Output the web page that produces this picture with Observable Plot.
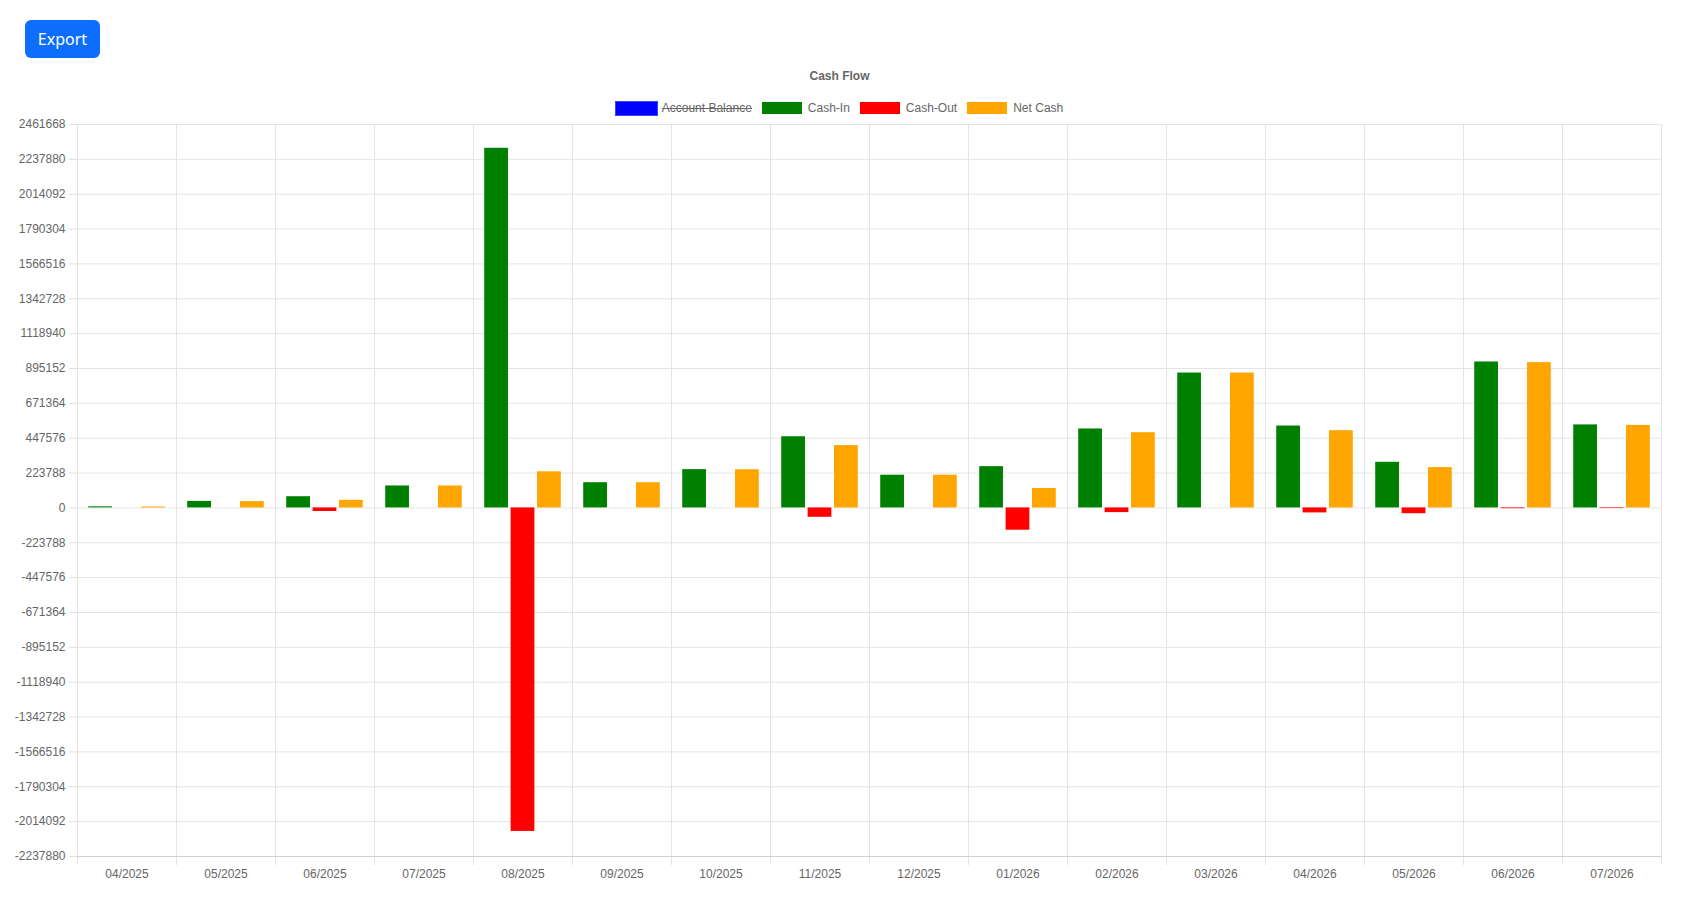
<!DOCTYPE html>
<html>
<head>
<meta charset="utf-8">
<script src="https://cdn.jsdelivr.net/npm/d3@7"></script>
<script src="https://cdn.jsdelivr.net/npm/@observablehq/plot@0.6"></script>
<style>
  html, body { margin: 0; padding: 0; background: #fff; overflow: hidden; }
  body { width: 1681px; height: 898px; position: relative; font-family: "Liberation Sans", Arial, sans-serif; }
  #export {
    position: absolute; left: 25px; top: 20px; width: 75px; height: 38px;
    background: #0d6efd; color: #fff; border: none; border-radius: 6px;
    font-family: "Noto Sans", "Open Sans", sans-serif; font-size: 16px; line-height: 38px;
    text-align: center; padding: 0; box-sizing: border-box; z-index: 2;
  }
  #title {
    position: absolute; left: 0; width: 1679px; top: 69px; text-align: center;
    font: bold 12px "Liberation Sans", Arial, sans-serif; color: #666; line-height: 14px; z-index: 2;
  }
  #legend {
    position: absolute; left: 0; width: 1678px; top: 100px; height: 16px;
    display: flex; justify-content: center; align-items: center;
    font: 12px "Liberation Sans", Arial, sans-serif; color: #666; z-index: 2;
  }
  .item { display: flex; align-items: center; margin: 0 5px; }
  .box { width: 40px; height: 12px; margin-right: 6px; box-sizing: border-box; }
  .hidden { text-decoration: line-through; }
  #chart { position: absolute; left: 0; top: 110px; z-index: 1; }
</style>
</head>
<body>
<button id="export">Export</button>
<div id="title"></div>
<div id="legend"></div>
<div id="chart"></div>
<script>
const chartTitle = "Cash Flow";
const months = ["04/2025","05/2025","06/2025","07/2025","08/2025","09/2025","10/2025","11/2025",
                "12/2025","01/2026","02/2026","03/2026","04/2026","05/2026","06/2026","07/2026"];
const legendNames = ["Account Balance", "Cash-In", "Cash-Out", "Net Cash"];
const legendColors = ["blue", "green", "red", "orange"];
const legendHidden = [true, false, false, false];
const cashIn  = [7000, 42000, 72000, 141000, 2309000, 162000, 246000, 457000, 210000, 265000, 507000, 866000, 526000, 293000, 937000, 533000];
const cashOut = [0, 0, -23000, 0, -2077000, 0, 0, -60000, 0, -143000, -30000, 0, -32000, -37000, -5000, -4000];
const netCash = [6000, 40000, 49000, 141000, 232000, 162000, 245000, 400000, 210000, 125000, 483000, 866000, 496000, 259000, 933000, 530000];
const yTicks = [2461668, 2237880, 2014092, 1790304, 1566516, 1342728, 1118940, 895152, 671364, 447576, 223788, 0,
                -223788, -447576, -671364, -895152, -1118940, -1342728, -1566516, -1790304, -2014092, -2237880];

// title & legend
document.getElementById("title").textContent = chartTitle;
const legend = document.getElementById("legend");
legendNames.forEach((name, i) => {
  const item = document.createElement("div");
  item.className = "item";
  const box = document.createElement("span");
  box.className = "box";
  box.style.background = legendColors[i];
  if (legendHidden[i]) {
    box.style.width = "43px"; box.style.height = "15px";
    box.style.border = "1.5px solid rgba(90,90,255,0.7)";
    box.style.marginRight = "4px";
  }
  const label = document.createElement("span");
  label.textContent = name;
  if (legendHidden[i]) label.className = "hidden";
  item.appendChild(box); item.appendChild(label);
  legend.appendChild(item);
});

// data table for visible series
const visibleSeries = legendNames.filter((d, i) => !legendHidden[i]);
const seriesValues = {"Cash-In": cashIn, "Cash-Out": cashOut, "Net Cash": netCash};
const rows = [];
months.forEach((m, i) => {
  visibleSeries.forEach(s => {
    const v = seriesValues[s][i];
    if (v !== 0) rows.push({month: m, series: s, value: v});
  });
});

const chart = Plot.plot({
  width: 1681,
  height: 782,
  marginLeft: 77,
  marginRight: 20,
  marginTop: 14,
  marginBottom: 36,
  style: {fontFamily: "'Liberation Sans', Arial, sans-serif", fontSize: "12px", color: "#666", background: "transparent", overflow: "visible"},
  fx: {domain: months, padding: 0, round: true, label: null},
  x: {domain: visibleSeries, paddingInner: 0.1, paddingOuter: 0.425, round: false, axis: null},
  y: {domain: [yTicks[yTicks.length - 1], yTicks[0]], axis: null},
  color: {domain: legendNames, range: legendColors},
  marks: [
    Plot.gridY(yTicks, {stroke: "#e5e5e5", strokeOpacity: 1}),
    Plot.frame({stroke: "#e5e5e5"}),
    Plot.frame({anchor: "left", insetBottom: -8, stroke: "#e5e5e5"}),
    Plot.frame({anchor: "right", insetBottom: -8, stroke: "#e5e5e5"}),
    Plot.ruleY([yTicks[yTicks.length - 1]], {stroke: "#cfcfcf"}),
    Plot.axisY(yTicks, {anchor: "left", tickSize: 8, tickPadding: 4, stroke: "#e0e0e0", fill: "#666",
                        tickFormat: d => String(d), label: null}),
    Plot.axisFx({anchor: "bottom", tickSize: 0, tickPadding: 13, label: null, fill: "#666"}),
    Plot.barY(rows, {fx: "month", x: "series", y1: 0, y2: "value", fill: "series"})
  ]
});
document.getElementById("chart").appendChild(chart);
</script>
</body>
</html>
